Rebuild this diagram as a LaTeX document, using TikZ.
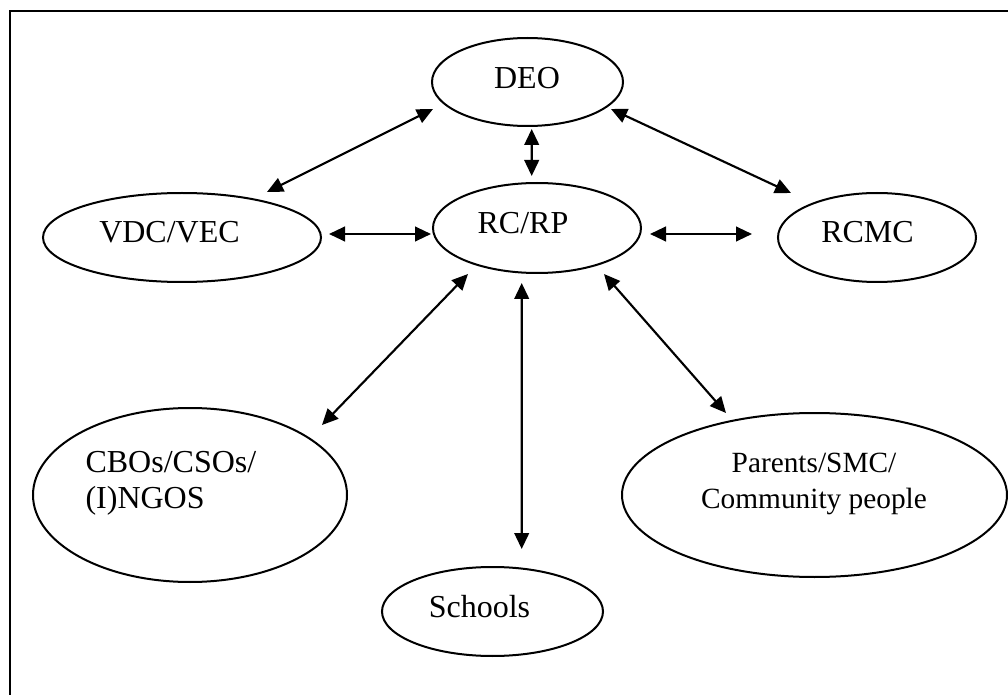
\documentclass[tikz,border=0pt]{standalone}
\usepackage{fontspec}
\setmainfont{Liberation Serif}
\usetikzlibrary{shapes.geometric,arrows.meta,calc}
\begin{document}
\begin{tikzpicture}[x=0.375pt,y=-0.375pt,
  oval/.style 2 args={draw, ellipse, line width=0.75pt, inner sep=0pt,
    minimum width=#1*0.375pt, minimum height=#2*0.375pt},
  lbl/.style={inner sep=0pt, font=\fontsize{12}{13.5}\selectfont},
  link/.style={line width=0.8pt,
    {Triangle[length=6pt,width=5.5pt]}-{Triangle[length=6pt,width=5.5pt]}}]
\useasboundingbox (0,0) rectangle (1008,695);

% page frame
\draw[line width=0.75pt] (9.5,695) -- (9.5,11.5) -- (1008,11.5);

% ellipses
\node[oval={191}{88}]  (deo)  at (527.5,82)    {};
\node[oval={278}{89}]  (vdc)  at (182,237.5)   {};
\node[oval={208}{90}]  (rc)   at (537,228)     {};
\node[oval={198}{89}]  (rcmc) at (877,237.5)   {};
\node[oval={314}{174}] (cbo)  at (190,495)     {};
\node[oval={385}{164}] (par)  at (814.5,495)   {};
\node[oval={221}{89}]  (sch)  at (492.5,611.5) {};

% labels
\node[lbl, anchor=base] (deo-t)  at (527,89)    {DEO};
\node[lbl, anchor=base] (vdc-t)  at (169.5,243) {VDC/VEC};
\node[lbl, anchor=base] (rc-t)   at (523,234)   {RC/RP};
\node[lbl, anchor=base] (rcmc-t) at (867.5,243) {RCMC};
\node[lbl, anchor=base west] (cbo-t) at (85,472)
  {\begin{tabular}[t]{@{}l@{}}CBOs/CSOs/\\(I)NGOS\end{tabular}};
\node[lbl, anchor=base, font=\fontsize{11}{13.5}\selectfont] (par-t) at (814,472)
  {\begin{tabular}[t]{@{}c@{}}Parents/SMC/\\Community people\end{tabular}};
\node[lbl, anchor=base] (sch-t)  at (479.5,617) {Schools};

% two-way links
\draw[link] ($(deo.center)+(-94.5,27)$) -- ($(vdc.center)+(85,-45.5)$);
\draw[link] ($(deo.center)+(83.5,27)$)  -- ($(rcmc.center)+(-86,-44.5)$);
\draw[link] ($(deo.center)+(4.2,47)$)   -- ($(rc.center)+(-5.3,-52)$);
\draw[link] ($(vdc.center)+(147,-3.5)$) -- ($(rc.center)+(-106,6)$);
\draw[link] ($(rc.center)+(113,6)$)     -- ($(rcmc.center)+(-125,-3.5)$);
\draw[link] ($(rc.center)+(-69,46)$)    -- ($(cbo.center)+(132,-70)$);
\draw[link] ($(rc.center)+(-15.3,55)$)  -- ($(sch.center)+(29.2,-62.5)$);
\draw[link] ($(rc.center)+(67,46)$)     -- ($(par.center)+(-88.5,-82)$);
\end{tikzpicture}
\end{document}
